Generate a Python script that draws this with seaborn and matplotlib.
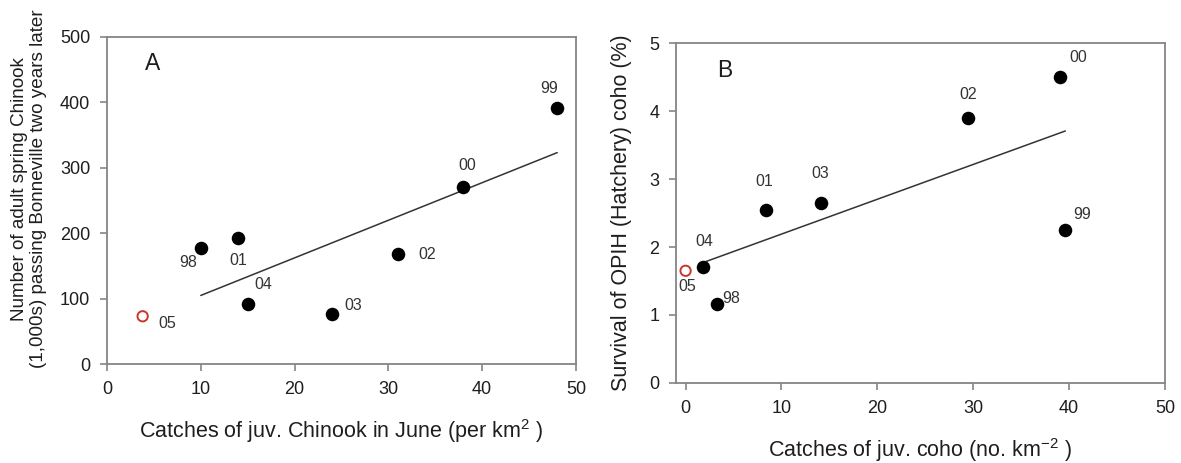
import matplotlib
matplotlib.use("Agg")
import matplotlib.pyplot as plt
import seaborn as sns
import pandas as pd

# Panel A: juvenile Chinook catches vs. adult returns two years later
years_a = ["98", "99", "00", "01", "02", "03", "04", "05"]
chinook_catch = [10.0, 48.0, 38.0, 14.0, 31.0, 24.0, 15.0, 3.8]
adult_returns = [178, 391, 270, 192, 168, 76, 91, 73]

# Panel B: juvenile coho catches vs. OPIH hatchery coho survival
years_b = ["98", "99", "00", "01", "02", "03", "04", "05"]
coho_catch = [3.3, 39.6, 39.0, 8.4, 29.4, 14.1, 1.8, 0.0]
coho_survival = [1.16, 2.25, 4.50, 2.54, 3.89, 2.65, 1.70, 1.65]

# year excluded from the regression (shown as an open circle)
excluded_year = "05"

# label offsets (pixels) of each year tag relative to its point
offsets_a = {"98": (-13, -15), "99": (-8, 20), "00": (4, 22), "01": (0, -22),
             "02": (29, 0), "03": (21, 9), "04": (16, 20), "05": (25, -7)}
offsets_b = {"98": (14, 6), "99": (17, 16), "00": (19, 20), "01": (-2, 29),
             "02": (1, 24), "03": (-1, 29), "04": (1, 26), "05": (2, -16)}

sns.set_theme(style="ticks")
plt.rcParams["font.family"] = ["Liberation Sans", "DejaVu Sans"]
plt.rcParams["mathtext.fontset"] = "custom"
plt.rcParams["mathtext.rm"] = "Liberation Sans"

FRAME = "#858585"
TEXT = "#1e1e1e"
RED = "#c8372d"

fig = plt.figure(figsize=(11.81, 4.63), dpi=100)
ax_a = fig.add_axes([0.0906, 0.2138, 0.3971, 0.7063])
ax_b = fig.add_axes([0.5724, 0.1728, 0.4141, 0.7343])


def draw_panel(ax, years, xs, ys, offsets):
    df = pd.DataFrame({"year": years, "x": xs, "y": ys})
    fit = df[df["year"] != excluded_year]
    out = df[df["year"] == excluded_year]
    sns.regplot(data=fit, x="x", y="y", ax=ax, scatter=False, ci=None,
                truncate=True, line_kws={"color": "#333333", "lw": 1.1})
    sns.scatterplot(data=fit, x="x", y="y", ax=ax, s=95, color="black",
                    edgecolor="black", linewidth=0, zorder=3)
    sns.scatterplot(data=out, x="x", y="y", ax=ax, s=55, facecolor="none",
                    edgecolor=RED, linewidth=1.4, zorder=3)
    for yr, x, y in zip(years, xs, ys):
        ax.annotate(yr, (x, y), xytext=offsets[yr], textcoords="offset pixels",
                    ha="center", va="center", fontsize=11.5, color="#333333")
    for side in ["left", "right", "top", "bottom"]:
        ax.spines[side].set_visible(True)
        ax.spines[side].set_color(FRAME)
        ax.spines[side].set_linewidth(1.3)
    ax.tick_params(axis="both", direction="out", length=5, width=1.2,
                   color=FRAME, labelsize=13, labelcolor=TEXT, pad=7,
                   top=False, right=False)


draw_panel(ax_a, years_a, chinook_catch, adult_returns, offsets_a)
ax_a.set_xlim(0, 50)
ax_a.set_ylim(0, 500)
ax_a.set_xticks([0, 10, 20, 30, 40, 50])
ax_a.set_yticks([0, 100, 200, 300, 400, 500])
ax_a.set_xlabel("Catches of juv. Chinook in June (per km$^{2}$ )",
                fontsize=15.5, color=TEXT, labelpad=14)
ax_a.set_ylabel("Number of adult spring Chinook\n"
                "(1,000s) passing Bonneville two years later",
                fontsize=13.6, color=TEXT, linespacing=1.15)
ax_a.yaxis.set_label_coords(-0.128, 0.535)
ax_a.text(0.098, 0.92, "A", transform=ax_a.transAxes, fontsize=16.5,
          color=TEXT, ha="center", va="center")

draw_panel(ax_b, years_b, coho_catch, coho_survival, offsets_b)
ax_b.set_xlim(-1, 50)
ax_b.set_ylim(0, 5)
ax_b.set_xticks([0, 10, 20, 30, 40, 50])
ax_b.set_yticks([0, 1, 2, 3, 4, 5])
ax_b.set_xlabel("Catches of juv. coho (no. km$^{-2}$ )",
                fontsize=15.5, color=TEXT, labelpad=14)
ax_b.set_ylabel("Survival of OPIH (Hatchery) coho (%)", fontsize=15.5,
                color=TEXT)
ax_b.yaxis.set_label_coords(-0.09, 0.5)
ax_b.text(0.1, 0.92, "B", transform=ax_b.transAxes, fontsize=16.5,
          color=TEXT, ha="center", va="center")

fig.savefig("out.png", dpi=100, facecolor="white")
